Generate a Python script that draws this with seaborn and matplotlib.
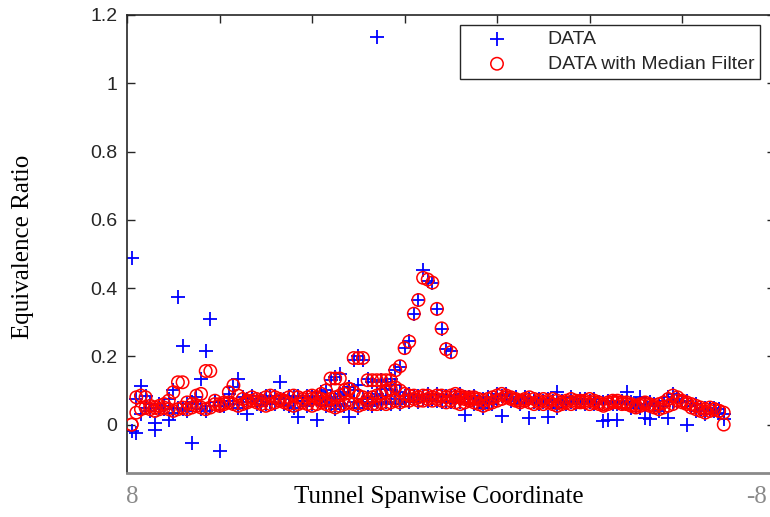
import numpy as np
import pandas as pd
import matplotlib
matplotlib.use("Agg")
import matplotlib.pyplot as plt
import seaborn as sns

# =============================================================================
# Data (x = sample index along the span)
# =============================================================================

idx_ab = np.arange(1, 130)
idx_c = np.arange(40, 76)

raw_a = [-0.02, -0.025, 0.03, 0.05, 0.04, 0.004, 0.05, 0.045, 0.013, 0.035,
         0.05, 0.045, 0.04, -0.054, 0.06, 0.045, 0.04, 0.055, 0.065, -0.076,
         0.055, 0.07, 0.06, 0.05, 0.065, 0.032, 0.075, 0.06, 0.055, 0.06,
         0.065, 0.06, 0.075, 0.06, 0.055, 0.05, 0.023, 0.07, 0.055, 0.06,
         0.013, 0.07, 0.055, 0.06, 0.045, 0.06, 0.055, 0.023, 0.065, 0.05,
         0.065, 0.06, 0.055, 0.065, 0.06, 0.065, 0.06, 0.075, 0.06, 0.075,
         0.065, 0.08, 0.065, 0.075, 0.07, 0.075, 0.07, 0.065, 0.07, 0.065,
         0.07, 0.065, 0.028, 0.075, 0.06, 0.065, 0.05, 0.065, 0.06, 0.075,
         0.025, 0.085, 0.07, 0.075, 0.06, 0.075, 0.02, 0.065, 0.06, 0.065,
         0.022, 0.065, 0.05, 0.065, 0.06, 0.065, 0.06, 0.075, 0.06, 0.065,
         0.06, 0.065, 0.01, 0.012, 0.06, 0.012, 0.06, 0.065, 0.05, 0.055,
         0.05, 0.018, 0.015, 0.055, 0.04, 0.055, 0.02, 0.065, 0.065, 0.07,
         0.0, 0.055, 0.04, 0.045, 0.03, 0.045, 0.04, 0.045, 0.015]

raw_b = [0.488, 0.075, 0.114, 0.085, 0.06, -0.015, 0.06, 0.055, 0.075, 0.1,
         0.375, 0.23, 0.06, 0.065, 0.08, 0.133, 0.215, 0.31, 0.065, 0.055,
         0.07, 0.09, 0.11, 0.133, 0.08, 0.075, 0.085, 0.07, 0.075, 0.085,
         0.08, 0.085, 0.124, 0.075, 0.085, 0.08, 0.085, 0.07, 0.085, 0.08,
         0.085, 0.095, 0.1, 0.13, 0.14, 0.147, 0.095, 0.11, 0.19, 0.2,
         0.19, 0.135, 0.125, 1.135, 0.13, 0.125, 0.135, 0.16, 0.17, 0.225,
         0.245, 0.325, 0.365, 0.454, 0.42, 0.415, 0.34, 0.28, 0.22, 0.215,
         0.085, 0.09, 0.075, 0.08, 0.085, 0.07, 0.075, 0.08, 0.075, 0.09,
         0.085, 0.09, 0.075, 0.08, 0.065, 0.08, 0.075, 0.07, 0.075, 0.07,
         0.075, 0.07, 0.095, 0.07, 0.065, 0.08, 0.065, 0.07, 0.075, 0.07,
         0.075, 0.06, 0.065, 0.07, 0.065, 0.06, 0.07, 0.095, 0.065, 0.06,
         0.08, 0.06, 0.065, 0.06, 0.055, 0.07, 0.08, 0.09, 0.075, 0.065,
         0.07, 0.055, 0.06, 0.045, 0.05, 0.045, 0.05, 0.035, 0.03]

raw_c = [0.08, 0.075, 0.08, 0.065, 0.08, 0.075, 0.09, 0.085, 0.11, 0.1,
         0.115, 0.075, 0.08, 0.075, 0.09, 0.085, 0.105, 0.1, 0.115, 0.095,
         0.085, 0.09, 0.08, 0.085, 0.08, 0.09, 0.075, 0.09, 0.08, 0.085,
         0.08, 0.085, 0.075, 0.08, 0.075, 0.08]

filt_a = [0.0, 0.035, 0.045, 0.05, 0.045, 0.04, 0.045, 0.05, 0.045, 0.04,
          0.045, 0.05, 0.045, 0.05, 0.055, 0.05, 0.045, 0.05, 0.06, 0.055,
          0.06, 0.065, 0.06, 0.055, 0.06, 0.065, 0.07, 0.065, 0.06, 0.055,
          0.06, 0.065, 0.07, 0.065, 0.06, 0.055, 0.06, 0.065, 0.06, 0.055,
          0.06, 0.065, 0.06, 0.055, 0.05, 0.055, 0.06, 0.065, 0.06, 0.055,
          0.06, 0.065, 0.06, 0.06, 0.065, 0.06, 0.065, 0.07, 0.065, 0.07,
          0.07, 0.075, 0.07, 0.07, 0.075, 0.07, 0.075, 0.07, 0.065, 0.07,
          0.065, 0.06, 0.065, 0.07, 0.065, 0.06, 0.055, 0.06, 0.065, 0.07,
          0.075, 0.08, 0.075, 0.07, 0.065, 0.07, 0.065, 0.06, 0.065, 0.06,
          0.065, 0.06, 0.055, 0.06, 0.065, 0.06, 0.065, 0.07, 0.065, 0.06,
          0.065, 0.06, 0.055, 0.06, 0.065, 0.07, 0.065, 0.06, 0.055, 0.05,
          0.055, 0.06, 0.055, 0.05, 0.045, 0.05, 0.055, 0.06, 0.07, 0.065,
          0.06, 0.05, 0.045, 0.04, 0.035, 0.04, 0.045, 0.04, 0.0]

filt_b = [0.0, 0.08, 0.085, 0.08, 0.055, 0.05, 0.055, 0.06, 0.07, 0.095,
          0.124, 0.124, 0.065, 0.06, 0.085, 0.09, 0.157, 0.157, 0.07, 0.06,
          0.065, 0.095, 0.115, 0.085, 0.075, 0.07, 0.08, 0.075, 0.07, 0.08,
          0.085, 0.08, 0.075, 0.07, 0.08, 0.085, 0.08, 0.075, 0.08, 0.085,
          0.08, 0.09, 0.1, 0.135, 0.135, 0.135, 0.1, 0.105, 0.195, 0.195,
          0.195, 0.13, 0.13, 0.13, 0.13, 0.13, 0.13, 0.159, 0.171, 0.224,
          0.243, 0.325, 0.365, 0.43, 0.425, 0.416, 0.339, 0.282, 0.221, 0.212,
          0.09, 0.085, 0.08, 0.075, 0.08, 0.075, 0.07, 0.075, 0.08, 0.085,
          0.09, 0.085, 0.08, 0.075, 0.07, 0.075, 0.08, 0.075, 0.07, 0.075,
          0.07, 0.075, 0.07, 0.065, 0.07, 0.075, 0.07, 0.065, 0.07, 0.075,
          0.07, 0.065, 0.06, 0.065, 0.07, 0.065, 0.06, 0.065, 0.06, 0.055,
          0.06, 0.065, 0.06, 0.055, 0.06, 0.065, 0.075, 0.085, 0.08, 0.07,
          0.065, 0.06, 0.055, 0.05, 0.045, 0.05, 0.045, 0.04, 0.035]

filt_c = [0.075, 0.08, 0.075, 0.07, 0.075, 0.08, 0.085, 0.09, 0.104, 0.095,
          0.085, 0.08, 0.075, 0.08, 0.085, 0.09, 0.1, 0.105, 0.109, 0.1,
          0.09, 0.085, 0.085, 0.08, 0.085, 0.085, 0.08, 0.085, 0.085, 0.08,
          0.085, 0.08, 0.08, 0.075, 0.08, 0.075]

raw_df = pd.DataFrame({'x': np.concatenate([idx_ab, idx_ab, idx_c]),
                       'y': raw_a + raw_b + raw_c})
filt_df = pd.DataFrame({'x': np.concatenate([idx_ab, idx_ab, idx_c]),
                        'y': filt_a + filt_b + filt_c})

# =============================================================================
# Plot
# =============================================================================

sns.set_theme(style='white')
plt.rcParams['font.family'] = ['Liberation Sans', 'DejaVu Sans']

fig = plt.figure(figsize=(7.7, 5.17), dpi=100)
ax = fig.add_axes([0.165, 0.085, 0.841, 0.886])

sns.scatterplot(data=raw_df, x='x', y='y', ax=ax, marker='+', s=95,
                color='blue', linewidth=1.3, label='DATA', zorder=2)
sns.scatterplot(data=filt_df, x='x', y='y', ax=ax, marker='o', s=80,
                facecolor='none', edgecolor='red', linewidth=1.1,
                label='DATA with Median Filter', zorder=3)
ax.collections[1].set_facecolor('none')

ax.set_xlim(0, 140)
ax.set_ylim(-0.142, 1.2)
ax.set_xticks(np.arange(0, 141, 20))
ax.set_yticks([0, 0.2, 0.4, 0.6, 0.8, 1.0, 1.2])
ax.set_yticklabels(['0', '0.2', '0.4', '0.6', '0.8', '1', '1.2'])
ax.set_xlabel('')
ax.set_ylabel('')

ax.tick_params(axis='y', direction='in', length=6, width=1, left=True,
               right=True, labelsize=14, labelcolor='#262626', pad=7,
               colors='#262626')
ax.tick_params(axis='x', direction='in', length=6, width=1, top=True,
               bottom=False, labelbottom=False, colors='#262626')

for side in ['left', 'top', 'right']:
    ax.spines[side].set_color('#262626')
    ax.spines[side].set_linewidth(1.2)
ax.spines['bottom'].set_color('#8a8a8a')
ax.spines['bottom'].set_linewidth(2)

leg = ax.legend(loc='upper right', bbox_to_anchor=(760 / 770, 1 - 25 / 517),
                bbox_transform=fig.transFigure, fontsize=14, frameon=True,
                fancybox=False, framealpha=1, edgecolor='#262626',
                borderpad=0.3, handletextpad=1.0, borderaxespad=0,
                labelspacing=0.35, handlelength=3.2)
leg.get_frame().set_linewidth(1)

serif = ['Liberation Serif', 'DejaVu Serif']
fig.text(23 / 770, 1 - 247 / 517, 'Equivalence Ratio', rotation=90,
         ha='center', va='center', fontsize=18, family=serif, color='black')
fig.text(439 / 770, 1 - 497 / 517, 'Tunnel Spanwise Coordinate',
         ha='center', va='center', fontsize=18, family=serif, color='black')
fig.text(132 / 770, 1 - 497 / 517, '8', ha='center', va='center',
         fontsize=18, family=serif, color='#8a8a8a')
fig.text(767 / 770, 1 - 497 / 517, '-8', ha='right', va='center',
         fontsize=18, family=serif, color='#8a8a8a')

fig.savefig('out.png', dpi=100)
